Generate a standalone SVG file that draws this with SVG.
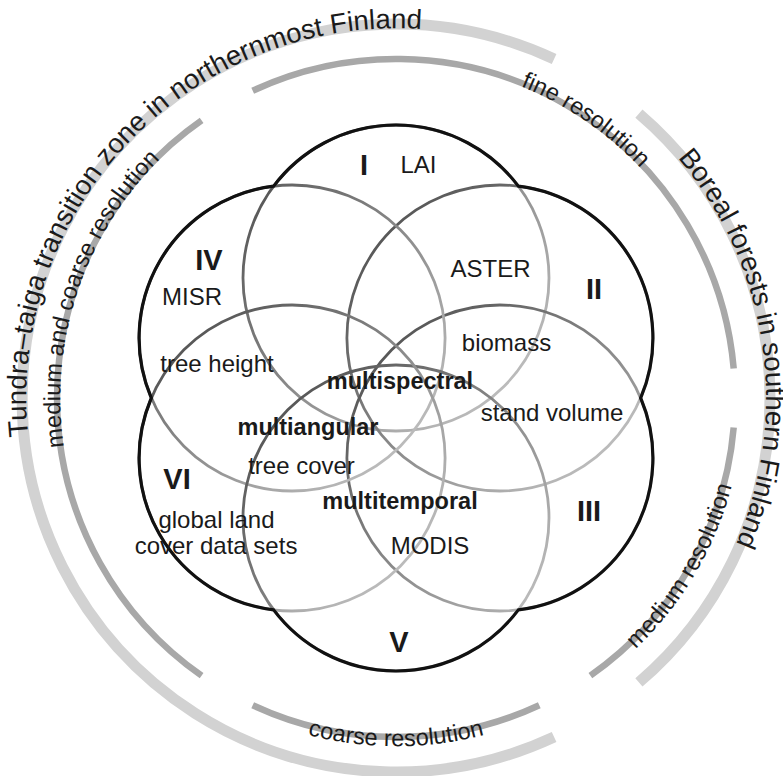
<svg xmlns="http://www.w3.org/2000/svg" width="783" height="776" viewBox="0 0 783 776">
<style>
.band-o{fill:none;stroke:#d2d2d2;stroke-width:11}
.band-i{fill:none;stroke:#a8a8a8;stroke-width:6.5}
.ring{fill:none;stroke:url(#g);stroke-width:2.8}
.outline{fill:none;stroke:#111;stroke-width:3.2}
text{font-family:"Liberation Sans",Arial,sans-serif;fill:#1a1a1a}
.lab{font-size:24px;text-anchor:middle}
.bold{font-size:23.5px;font-weight:bold;text-anchor:middle}
.num{font-size:29px;font-weight:bold;text-anchor:middle}
.arc-o{font-size:27.5px}
.arc-i{font-size:23.5px}
</style>
<defs>
<linearGradient id="g" x1="0" y1="0" x2="1" y2="1">
<stop offset="0" stop-color="#444"/>
<stop offset="1" stop-color="#cfcfcf"/>
</linearGradient>
<path id="pT" d="M 116.8 640.7 A 370 370 0 0 1 628.9 110.5"/>
<path id="pB" d="M 372.8 28.7 A 370 370 0 0 1 483 757.6"/>
<path id="pF" d="M 136 185.2 A 336 336 0 0 1 689 562.4"/>
<path id="pMC" d="M 262 706.1 A 336 336 0 0 1 474.4 71.3"/>
<path id="pC" d="M 49.3 428.3 A 348 348 0 0 0 742.7 428.3"/>
<path id="pM" d="M 246.6 711.2 A 347 347 0 0 0 597.5 115.5"/>
</defs>
<rect width="783" height="776" fill="#fff"/>
<g id="connectors">
<path class="band-o" d="M 554.1 59 A 374 374 0 1 0 554.1 737"/>
<path class="band-o" d="M 638.9 113.6 A 374 374 0 0 1 638.9 682.4"/>
<path class="band-i" d="M 252.7 90.8 A 339 339 0 0 1 733.7 368.5"/>
<path class="band-i" d="M 733.7 427.5 A 339 339 0 0 1 590.4 675.7"/>
<path class="band-i" d="M 539.3 705.2 A 339 339 0 0 1 252.7 705.2"/>
<path class="band-i" d="M 201.6 675.7 A 339 339 0 0 1 201.6 120.3"/>
</g>
<g id="arc-labels">
<text class="arc-o"><textPath href="#pT" startOffset="50%" text-anchor="middle">Tundra–taiga transition zone in northernmost Finland</textPath></text>
<text class="arc-o"><textPath href="#pB" startOffset="50%" text-anchor="middle">Boreal forests in southern Finland</textPath></text>
<text class="arc-i"><textPath href="#pF" startOffset="50%" text-anchor="middle">fine resolution</textPath></text>
<text class="arc-i"><textPath href="#pMC" startOffset="50%" text-anchor="middle">medium and coarse resolution</textPath></text>
<text class="arc-i"><textPath href="#pC" startOffset="50%" text-anchor="middle">coarse resolution</textPath></text>
<text class="arc-i"><textPath href="#pM" startOffset="50%" text-anchor="middle">medium resolution</textPath></text>
</g>
<g id="circle-I"><circle class="ring" cx="396" cy="278" r="153"/><text class="num" x="364" y="175">I</text></g>
<g id="circle-II"><circle class="ring" cx="499.9" cy="338" r="153"/><text class="num" x="594" y="299">II</text></g>
<g id="circle-III"><circle class="ring" cx="499.9" cy="458" r="153"/><text class="num" x="589" y="521">III</text></g>
<g id="circle-IV"><circle class="ring" cx="292.1" cy="338" r="153"/><text class="num" x="209" y="270">IV</text></g>
<g id="circle-V"><circle class="ring" cx="396" cy="518" r="153"/><text class="num" x="399" y="652">V</text></g>
<g id="circle-VI"><circle class="ring" cx="292.1" cy="458" r="153"/><text class="num" x="177" y="489">VI</text></g>
<g id="outline"><path class="outline" d="M 273.67 186.11 A 153 153 0 0 1 518.33 186.11 A 153 153 0 0 1 640.67 398 A 153 153 0 0 1 518.33 609.89 A 153 153 0 0 1 273.67 609.89 A 153 153 0 0 1 151.33 398 A 153 153 0 0 1 273.67 186.11 Z"/></g>
<g id="labels">
<text class="lab" x="418.5" y="173">LAI</text>
<text class="lab" x="490.5" y="277">ASTER</text>
<text class="lab" x="506.5" y="351">biomass</text>
<text class="lab" x="192" y="305">MISR</text>
<text class="lab" x="217" y="372">tree height</text>
<text class="lab" x="552" y="421">stand volume</text>
<text class="lab" x="301.5" y="474">tree cover</text>
<text class="lab" x="216.5" y="528">global land</text>
<text class="lab" x="216" y="554">cover data sets</text>
<text class="lab" x="430" y="554">MODIS</text>
<text class="bold" x="400" y="389">multispectral</text>
<text class="bold" x="308" y="435">multiangular</text>
<text class="bold" x="400" y="509">multitemporal</text>
</g>
</svg>
